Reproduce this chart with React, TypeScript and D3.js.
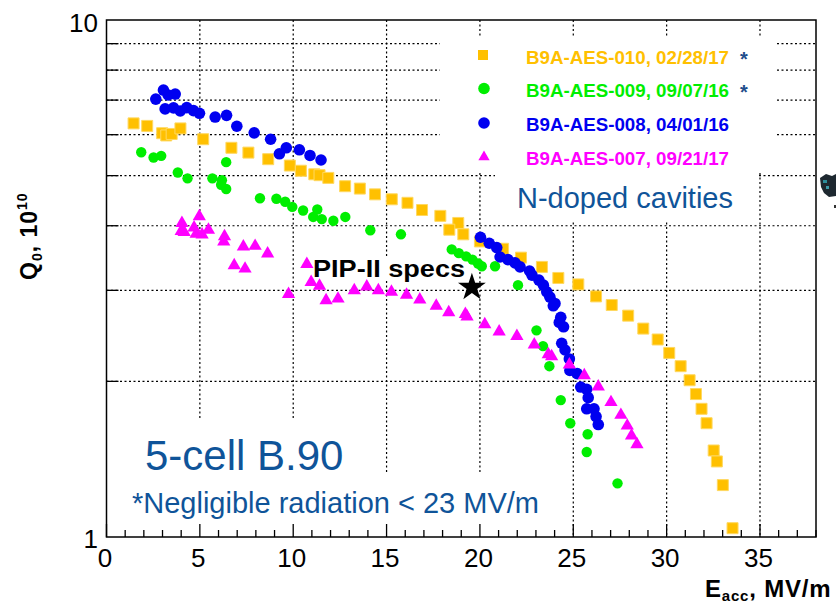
import React from 'react';
import * as d3 from 'd3';

const W = 836;
const H = 604;
const M = { left: 106.5, right: 816, top: 20, bottom: 537 };

// ---- data (E_acc in MV/m, Q0 in 1e10) ----
const aes010E = [1.45, 2.18, 2.98, 3.20, 3.49, 3.96, 5.18, 6.69, 7.60, 8.66, 9.82, 10.41, 11.13, 11.41, 11.88, 12.78, 13.57, 14.38, 15.28, 16.12, 16.90, 17.88, 18.84, 18.36, 19.11, 20.0, 21.24, 22.20, 23.32, 24.20, 25.27, 26.22, 27.06, 27.94, 28.75, 29.52, 30.14, 30.75, 31.23, 31.57, 31.87, 32.14, 32.52, 32.69, 33.01, 33.53];
const aes010Q = [6.31, 6.24, 6.04, 5.98, 6.02, 6.17, 5.88, 5.66, 5.54, 5.38, 5.23, 5.11, 5.03, 5.01, 4.95, 4.77, 4.72, 4.60, 4.50, 4.43, 4.29, 4.18, 4.05, 3.93, 3.85, 3.73, 3.61, 3.47, 3.33, 3.17, 3.08, 2.92, 2.81, 2.68, 2.53, 2.41, 2.27, 2.14, 2.01, 1.89, 1.77, 1.66, 1.47, 1.40, 1.26, 1.04];

const aes009E = [1.86, 2.52, 2.93, 3.82, 4.34, 5.67, 6.18, 6.14, 6.41, 6.41, 8.22, 9.10, 9.57, 9.95, 10.53, 11.07, 11.29, 11.53, 12.15, 12.79, 14.13, 15.77, 18.49, 18.87, 19.26, 19.60, 19.90, 20.10, 20.81, 22.04, 23.03, 23.38, 23.72, 24.33, 24.84, 25.77, 25.72, 27.37];
const aes009Q = [5.55, 5.42, 5.46, 5.07, 4.94, 4.94, 4.90, 4.80, 4.71, 5.31, 4.52, 4.51, 4.45, 4.35, 4.28, 4.16, 4.30, 4.12, 4.09, 4.16, 3.92, 3.85, 3.60, 3.54, 3.49, 3.44, 3.38, 3.34, 3.34, 3.07, 2.51, 2.34, 2.14, 1.84, 1.66, 1.58, 1.46, 1.27];

const aes008E = [2.64, 3.05, 3.30, 3.68, 3.14, 3.59, 3.95, 4.30, 4.66, 4.98, 5.82, 6.43, 6.98, 7.91, 8.79, 9.26, 9.63, 10.33, 10.90, 11.49, 20.03, 20.50, 20.90, 21.08, 21.50, 21.88, 22.15, 22.66, 22.79, 23.16, 23.40, 23.58, 23.75, 24.02, 23.93, 24.33, 24.25, 24.48, 24.38, 24.56, 24.79, 24.82, 25.21, 25.40, 25.72, 25.80, 25.72, 26.11, 26.22, 26.34];
const aes008Q = [7.03, 7.32, 7.16, 7.19, 6.73, 6.76, 6.67, 6.77, 6.68, 6.60, 6.49, 6.54, 6.23, 6.05, 5.88, 5.51, 5.66, 5.61, 5.47, 5.36, 3.80, 3.70, 3.63, 3.48, 3.44, 3.39, 3.33, 3.27, 3.21, 3.14, 3.07, 2.98, 2.91, 2.83, 2.80, 2.66, 2.60, 2.55, 2.37, 2.30, 2.21, 2.10, 2.07, 1.95, 1.93, 1.86, 1.77, 1.77, 1.71, 1.65];

const aes007E = [4.04, 4.00, 4.16, 4.69, 4.97, 4.80, 5.12, 5.46, 6.32, 6.28, 7.33, 7.96, 8.63, 6.84, 7.42, 9.75, 10.73, 10.96, 11.41, 11.76, 12.40, 13.27, 13.94, 14.56, 15.26, 16.07, 16.78, 17.66, 18.33, 19.22, 19.31, 20.26, 21.03, 21.98, 22.91, 23.66, 23.84, 24.79, 25.59, 26.34, 27.02, 27.55, 27.89, 28.12, 28.41];
const aes007Q = [4.02, 3.88, 3.86, 3.94, 4.14, 3.83, 3.82, 3.90, 3.79, 3.70, 3.62, 3.63, 3.51, 3.33, 3.28, 2.93, 3.35, 3.09, 3.04, 2.85, 2.87, 2.98, 3.03, 2.98, 2.96, 2.92, 2.86, 2.78, 2.70, 2.68, 2.65, 2.56, 2.48, 2.43, 2.34, 2.24, 2.22, 2.14, 2.04, 1.94, 1.81, 1.71, 1.63, 1.56, 1.50];

const specE = [19.57];
const specQ = [3.04];

const legendLabels = ['B9A-AES-010, 02/28/17', 'B9A-AES-009, 09/07/16', 'B9A-AES-008, 04/01/16', 'B9A-AES-007, 09/21/17'];
const legendStars = [true, true, false, false];
const xTickLabels = [0, 5, 10, 15, 20, 25, 30, 35];
const yGridValues = [2, 3, 4, 5, 6, 7, 8, 9];
const yTickLabels = [1, 10];

const YELLOW = '#FFC000';
const GREEN = '#00EE00';
const BLUE = '#0000F0';
const MAGENTA = '#FF00FF';
const TEXTBLUE = '#0F5499';
const FONT = '"Liberation Sans", Arial, Helvetica, sans-serif';

type Series = { key: string; E: number[]; Q: number[]; color: string; shape: 'square' | 'circle' | 'triangle'; r: number };

const series: Series[] = [
  { key: 'aes010', E: aes010E, Q: aes010Q, color: YELLOW, shape: 'square', r: 11 },
  { key: 'aes009', E: aes009E, Q: aes009Q, color: GREEN, shape: 'circle', r: 5.2 },
  { key: 'aes008', E: aes008E, Q: aes008Q, color: BLUE, shape: 'circle', r: 5.8 },
  { key: 'aes007', E: aes007E, Q: aes007Q, color: MAGENTA, shape: 'triangle', r: 13 },
];

function Marker({ cx, cy, s }: { cx: number; cy: number; s: Series }) {
  if (s.shape === 'circle') return <circle cx={cx} cy={cy} r={s.r} fill={s.color} />;
  if (s.shape === 'square') {
    const d = d3.symbol(d3.symbolSquare, s.r * s.r)();
    return <path d={d || ''} transform={`translate(${cx},${cy})`} fill={s.color} stroke="#FFD860" strokeWidth={1} />;
  }
  const tri = d3.symbol(d3.symbolTriangle, 76)();
  return <path d={tri || ''} transform={`translate(${cx},${cy - 1.5})`} fill={s.color} />;
}

export default function App() {
  const x = d3.scaleLinear().domain([0, 38]).range([M.left, M.right]);
  const y = d3.scaleLog().domain([1, 10]).range([M.bottom, M.top]);
  const xMinor = d3.range(0, 39, 1);
  const xGrid = xTickLabels.filter((v) => v > 0);
  const star = d3.symbol(d3.symbolStar, 240)();

  const legendX = 483;
  const legendRowsY = [55, 88.5, 123, 157];
  const legendBaselines = [63.5, 97, 131, 164.5];

  return (
    <svg width={W} height={H} style={{ position: 'absolute', left: 0, top: 0, background: '#fff' }} fontFamily={FONT}>
      <rect x={0} y={0} width={W} height={H} fill="#fff" />
      {/* grid */}
      <g stroke="#000" strokeWidth={1.2} strokeDasharray="2,2.5">
        {yGridValues.map((v) => (
          <line key={'gy' + v} x1={M.left} x2={M.right} y1={y(v)} y2={y(v)} />
        ))}
        {xGrid.map((v) => (
          <line key={'gx' + v} x1={x(v)} x2={x(v)} y1={M.top} y2={M.bottom} />
        ))}
      </g>
      {/* white text boxes (occlude grid) */}
      <g fill="#fff">
        <rect x={440} y={37} width={337} height={136} />
        <rect x={495} y={173} width={263} height={49} />
        <rect x={310} y={258} width={158} height={23} />
        <rect x={125} y={418} width={245} height={117} />
        <rect x={120} y={473} width={440} height={62} />
      </g>
      {/* axes frame */}
      <rect x={M.left} y={M.top} width={M.right - M.left} height={M.bottom - M.top} fill="none" stroke="#000" strokeWidth={1.5} />
      {/* ticks */}
      <g stroke="#000" strokeWidth={1.3}>
        {yGridValues.map((v) => (
          <line key={'ty' + v} x1={M.left} x2={M.left + 12} y1={y(v)} y2={y(v)} />
        ))}
        {xMinor.map((v) => (
          <line key={'tx' + v} x1={x(v)} x2={x(v)} y1={M.bottom} y2={M.bottom - (v % 5 === 0 ? 13 : 7)} />
        ))}
      </g>
      {/* tick labels */}
      <g fontSize={26} fill="#000">
        {xTickLabels.map((v) => (
          <text key={'xl' + v} x={x(v) - 1.5} y={566.5} textAnchor="middle">{v}</text>
        ))}
        {yTickLabels.map((v) => (
          <text key={'yl' + v} x={98} y={v === 10 ? 31.5 : 548} textAnchor="end">{v}</text>
        ))}
      </g>
      {/* axis titles */}
      <text transform="translate(37,280) rotate(-90)" fontWeight="bold" fontSize={23} letterSpacing={1} fill="#000">
        Q<tspan fontSize={14} dy={5}>0</tspan><tspan dy={-5}>, 10</tspan><tspan fontSize={14} dy={-10}>10</tspan>
      </text>
      <text x={705} y={597} fontWeight="bold" fontSize={24} letterSpacing={0.8} fill="#000">
        E<tspan fontSize={15} dy={4}>acc</tspan><tspan dy={-4}>, MV/m</tspan>
      </text>
      {/* data */}
      {series.map((s) => (
        <g key={s.key}>
          {s.E.map((e, i) => (
            <Marker key={i} cx={x(e)} cy={y(s.Q[i])} s={s} />
          ))}
        </g>
      ))}
      {/* PIP-II spec star */}
      {specE.map((e, i) => (
        <path key={'star' + i} d={star || ''} transform={`translate(${x(e)},${y(specQ[i])})`} fill="#000" />
      ))}
      <text x={313} y={277} fontWeight="bold" fontSize={23} textLength={152} lengthAdjust="spacingAndGlyphs" fill="#000">PIP-II specs</text>
      {/* legend */}
      {series.map((s, i) => (
        <g key={'lg' + s.key}>
          {s.shape === 'circle' && <circle cx={legendX + 1} cy={legendRowsY[i]} r={5.8} fill={s.color} />}
          {s.shape === 'square' && (
            <path d={d3.symbol(d3.symbolSquare, 100)() || ''} transform={`translate(${legendX},${legendRowsY[i]})`} fill={s.color} />
          )}
          {s.shape === 'triangle' && (
            <path d={d3.symbol(d3.symbolTriangle, 55)() || ''} transform={`translate(${legendX + 1},${legendRowsY[i]})`} fill={s.color} />
          )}
          <text x={526} y={legendBaselines[i]} fontWeight="bold" fontSize={18.5} textLength={203} lengthAdjust="spacingAndGlyphs" fill={s.color}>
            {legendLabels[i]}
          </text>
          {legendStars[i] && (
            <text x={740} y={legendBaselines[i] + 2} fontWeight="bold" fontSize={20} fill="#1F4E8C">*</text>
          )}
        </g>
      ))}
      <text x={517} y={208} fontSize={29} fill={TEXTBLUE}>N-doped cavities</text>
      <text x={145} y={470} fontSize={42} fill={TEXTBLUE}>5-cell B.90</text>
      <text x={132} y={513} fontSize={29} fill={TEXTBLUE}>*Negligible radiation &lt; 23 MV/m</text>
      {/* stray image fragment at right edge */}
      <g>
        <path d="M820,178 L826,174 L832,176 L836,174 L836,196 L829,197 L824,193 L821,187 Z" fill="#1E2830" />
        <rect x={823} y={180} width={4} height={3} fill="#2C8C9A" />
        <rect x={826} y={186} width={3} height={3} fill="#3A9AA8" />
        <rect x={834} y={205} width={2} height={3} fill="#333" />
      </g>
    </svg>
  );
}
